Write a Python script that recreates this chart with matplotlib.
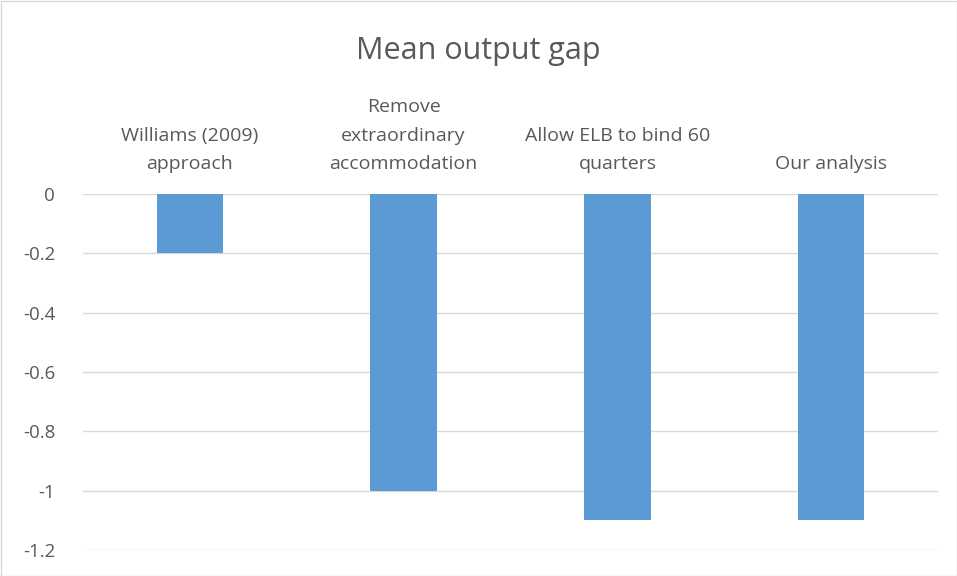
import numpy as np
import matplotlib.pyplot as plt

plt.rcParams['font.family'] = ['Open Sans', 'DejaVu Sans']

categories = ["Williams (2009)\napproach", "Remove\nextraordinary\naccommodation",
              "Allow ELB to bind 60\nquarters", "Our analysis"]
values = [-0.2, -1.0, -1.1, -1.1]
yticks = [0, -0.2, -0.4, -0.6, -0.8, -1, -1.2]

W, H = 957, 576
fig = plt.figure(figsize=(W / 100, H / 100), dpi=100)
ax = fig.add_axes([83 / W, (H - 550) / H, 855 / W, 356 / H])

x = np.arange(len(categories))
ax.bar(x, values, width=0.31, color='#5B9BD5', zorder=3)

ax.set_xlim(-0.5, len(categories) - 0.5)
ax.set_ylim(-1.2, 0)
ax.set_yticks(yticks)
ax.set_yticklabels([str(v) for v in yticks], fontsize=13.5, color='#595959')
ax.yaxis.grid(True, color='#D9D9D9', linewidth=1, zorder=0)

ax.xaxis.tick_top()
ax.set_xticks(x)
ax.set_xticklabels(categories, fontsize=14, color='#595959', linespacing=1.75)
ax.tick_params(axis='y', length=0, pad=20)
ax.tick_params(axis='x', length=0, pad=15)
for s in ax.spines.values():
    s.set_visible(False)

fig.text(0.5, (H - 51) / H, 'Mean output gap', ha='center', va='center',
         fontsize=22, color='#595959')

border = plt.Rectangle((0.5 / W, 0.5 / H), 1 - 1 / W, 1 - 1 / H, transform=fig.transFigure,
                       fill=False, edgecolor='#D9D9D9', linewidth=1)
fig.patches.append(border)

fig.savefig('out.png', dpi=100)
